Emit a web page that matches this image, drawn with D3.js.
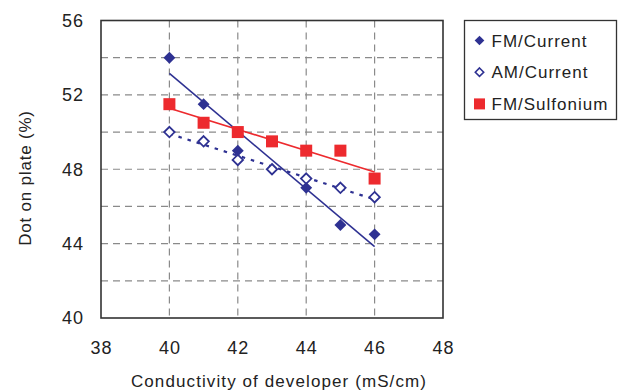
<!DOCTYPE html>
<html>
<head>
<meta charset="utf-8">
<script src="https://cdn.jsdelivr.net/npm/d3@7"></script>
<style>
  body { margin: 0; background: #fff; }
  svg { font-family: "Liberation Sans", Arial, sans-serif; }
</style>
</head>
<body>
<svg id="chart" width="623" height="391"></svg>
<script>
// Data
const fmCurrentX = [40, 41, 42, 44, 45, 46];
const fmCurrentY = [54, 51.5, 49, 47, 45, 44.5];
const amCurrentX = [40, 41, 42, 43, 44, 45, 46];
const amCurrentY = [50, 49.5, 48.5, 48, 47.5, 47, 46.5];
const sulfoniumX = [40, 41, 42, 43, 44, 45, 46];
const sulfoniumY = [51.5, 50.5, 50, 49.5, 49, 49, 47.5];
const xTicks = [38, 40, 42, 44, 46, 48];
const yTicks = [40, 44, 48, 52, 56];
const yGrid = [42, 44, 46, 48, 50, 52, 54];
const xGrid = [40, 42, 44, 46];
const seriesNames = ['FM/Current', 'AM/Current', 'FM/Sulfonium'];

const blue = '#2e3192';
const red = '#ed2a2e';

const translate = (x, y) => `translate(${x}, ${y})`;

const svg = d3.select('#chart');
const margins = { top: 20.5, left: 101, right: 180, bottom: 73 };
const width = 623, height = 391;

const x = d3.scaleLinear().domain([38, 48]).range([margins.left, width - margins.right]);
const y = d3.scaleLinear().domain([40, 56]).range([height - margins.bottom, margins.top]);

// least-squares trend line over the data range
const fitLine = (xs, ys) => {
    const mx = d3.mean(xs), my = d3.mean(ys);
    const sxy = d3.sum(xs, (v, i) => (v - mx) * (ys[i] - my));
    const sxx = d3.sum(xs, v => (v - mx) ** 2);
    const b = sxy / sxx, a = my - b * mx;
    const ext = d3.extent(xs);
    return ext.map(v => [v, a + b * v]);
};

// Grid
const grid = svg.append('g').attr('stroke', '#8a8a8a').attr('stroke-width', 1.2)
    .attr('stroke-dasharray', '7,5');
grid.selectAll('line.gx').data(xGrid).join('line')
    .attr('class', 'gx')
    .attr('x1', d => x(d)).attr('x2', d => x(d))
    .attr('y1', y(56)).attr('y2', y(40));
grid.selectAll('line.gy').data(yGrid).join('line')
    .attr('class', 'gy')
    .attr('x1', x(38)).attr('x2', x(48))
    .attr('y1', d => y(d)).attr('y2', d => y(d));

// Frame
svg.append('rect')
    .attr('x', x(38)).attr('y', y(56))
    .attr('width', x(48) - x(38)).attr('height', y(40) - y(56))
    .attr('fill', 'none').attr('stroke', '#333').attr('stroke-width', 1.6);

// Axes labels (tick text only)
const xAxis = d3.axisBottom(x).tickValues(xTicks).tickSize(0).tickPadding(23);
svg.append('g').attr('transform', translate(0, y(40))).call(xAxis)
    .call(g => g.select('.domain').remove())
    .selectAll('text').attr('font-size', 18).attr('fill', '#222')
    .attr('letter-spacing', 1)
    .attr('font-family', '"Liberation Sans", Arial, sans-serif');

const yAxis = d3.axisLeft(y).tickValues(yTicks).tickSize(0).tickPadding(17);
svg.append('g').attr('transform', translate(x(38), 0)).call(yAxis)
    .call(g => g.select('.domain').remove())
    .selectAll('text').attr('font-size', 18).attr('fill', '#222')
    .attr('letter-spacing', 1)
    .attr('font-family', '"Liberation Sans", Arial, sans-serif');

svg.append('text')
    .attr('x', 279).attr('y', 387)
    .attr('text-anchor', 'middle').attr('font-size', 17).attr('fill', '#222')
    .attr('letter-spacing', 1.1)
    .text('Conductivity of developer (mS/cm)');

svg.append('text')
    .attr('transform', translate(31, 178) + ' rotate(-90)')
    .attr('text-anchor', 'middle').attr('font-size', 17).attr('fill', '#222')
    .attr('letter-spacing', 0.8)
    .text('Dot on plate (%)');

// Trend lines
const line = d3.line(d => x(d[0]), d => y(d[1]));
svg.append('path').attr('d', line(fitLine(amCurrentX, amCurrentY)))
    .attr('fill', 'none').attr('stroke', blue).attr('stroke-width', 2.2)
    .attr('stroke-dasharray', '3.5,6');
svg.append('path').attr('d', line(fitLine(sulfoniumX, sulfoniumY)))
    .attr('fill', 'none').attr('stroke', red).attr('stroke-width', 1.6);
svg.append('path').attr('d', line(fitLine(fmCurrentX, fmCurrentY)))
    .attr('fill', 'none').attr('stroke', blue).attr('stroke-width', 1.6);

// Markers
const diamond = d3.symbol(d3.symbolDiamond2, 90);
const zipPts = (xs, ys) => xs.map((v, i) => [v, ys[i]]);

svg.append('g').selectAll('path').data(zipPts(amCurrentX, amCurrentY)).join('path')
    .attr('d', d3.symbol(d3.symbolDiamond2, 70))
    .attr('transform', d => translate(x(d[0]), y(d[1])))
    .attr('fill', '#fff').attr('stroke', blue).attr('stroke-width', 1.8);

svg.append('g').selectAll('rect').data(zipPts(sulfoniumX, sulfoniumY)).join('rect')
    .attr('x', d => x(d[0]) - 6).attr('y', d => y(d[1]) - 6)
    .attr('width', 12).attr('height', 12)
    .attr('fill', red);

svg.append('g').selectAll('path').data(zipPts(fmCurrentX, fmCurrentY)).join('path')
    .attr('d', diamond)
    .attr('transform', d => translate(x(d[0]), y(d[1])))
    .attr('fill', blue);

// Legend
const legend = svg.append('g').attr('transform', translate(464.5, 20.5));
legend.append('rect').attr('width', 152).attr('height', 99)
    .attr('fill', '#fff').attr('stroke', '#333').attr('stroke-width', 1.3);
const rows = legend.selectAll('g.row').data(seriesNames).join('g')
    .attr('class', 'row')
    .attr('transform', (d, i) => translate(15, 20 + i * 31.7));
rows.each(function (d, i) {
    const g = d3.select(this);
    if (i === 0) {
        g.append('path').attr('d', d3.symbol(d3.symbolDiamond2, 60)).attr('fill', blue);
    } else if (i === 1) {
        g.append('path').attr('d', d3.symbol(d3.symbolDiamond2, 45))
            .attr('fill', '#fff').attr('stroke', blue).attr('stroke-width', 1.6);
    } else {
        g.append('rect').attr('x', -5.5).attr('y', -5.5).attr('width', 11).attr('height', 11)
            .attr('fill', red);
    }
    g.append('text').attr('x', 12).attr('y', 6).attr('font-size', 17).attr('fill', '#222')
        .attr('letter-spacing', 1)
        .text(d);
});
</script>
</body>
</html>
